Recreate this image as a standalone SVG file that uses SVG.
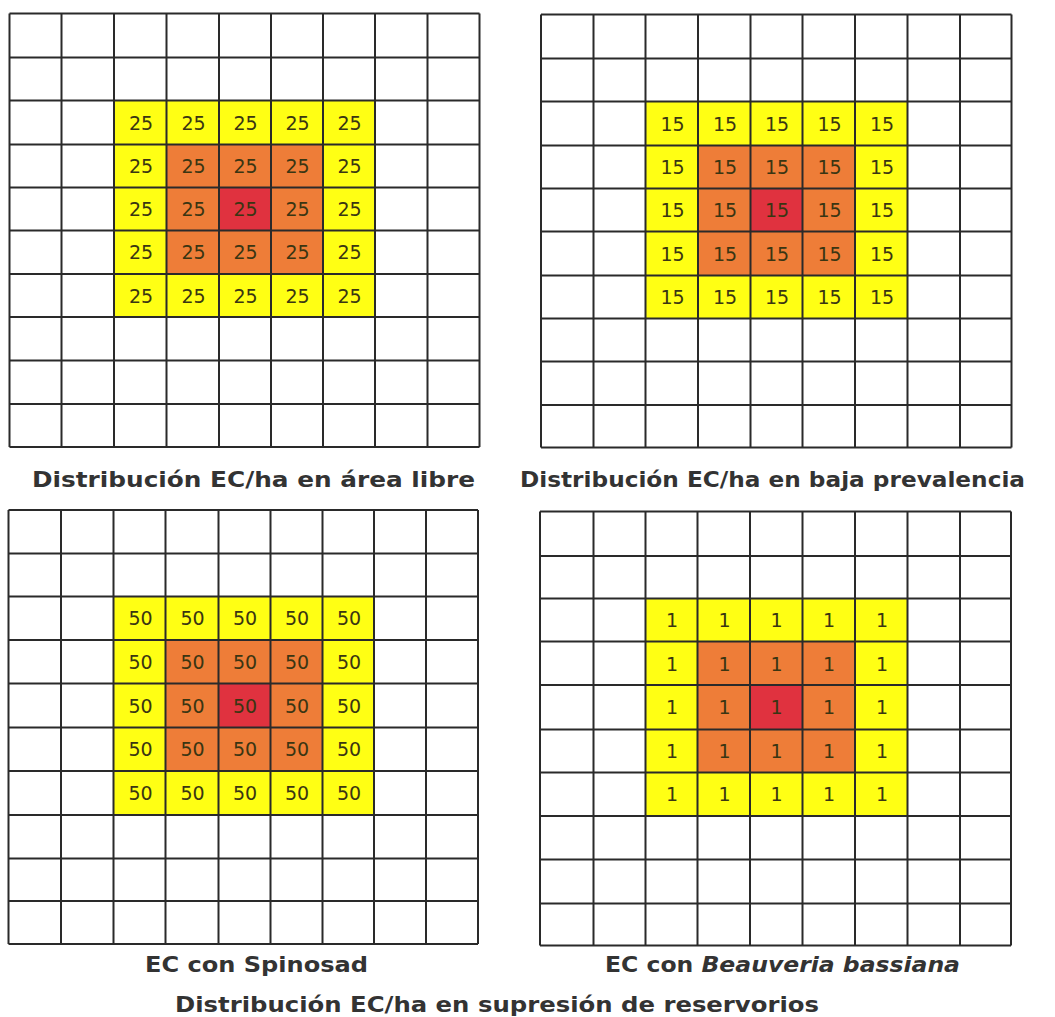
<svg xmlns="http://www.w3.org/2000/svg" width="1055" height="1017" viewBox="0 0 1055 1017">
<style>
.y{fill:#FFFF14}
.o{fill:#EE7D38}
.r{fill:#E0323F}
.g{fill:none;stroke:#2a2a2a;stroke-width:2}
.n{font-family:"DejaVu Sans",Verdana,sans-serif;font-size:19px;fill:#3a3512;text-anchor:middle}
.t{font-family:"DejaVu Sans",Verdana,sans-serif;font-weight:bold;font-size:22px;fill:#333;text-anchor:middle}
</style>
<rect width="1055" height="1017" fill="#fff"/>

<g id="grid-area-libre">
<rect class="y" x="114" y="100.5" width="261" height="216.5"/>
<rect class="o" x="166.5" y="144.5" width="156.5" height="129.5"/>
<rect class="r" x="219" y="187.5" width="52" height="43"/>
<path class="g" d="M9.5 13.5V447M61.5 13.5V447M114 13.5V447M166.5 13.5V447M219 13.5V447M271 13.5V447M323 13.5V447M375 13.5V447M427.5 13.5V447M479.5 13.5V447M9.5 13.5H479.5M9.5 57.5H479.5M9.5 100.5H479.5M9.5 144.5H479.5M9.5 187.5H479.5M9.5 230.5H479.5M9.5 274H479.5M9.5 317H479.5M9.5 360.5H479.5M9.5 404H479.5M9.5 447H479.5"/>
<g class="n">
<text x="141" y="129.5">25</text><text x="193.5" y="129.5">25</text><text x="245.5" y="129.5">25</text><text x="297.5" y="129.5">25</text><text x="349.5" y="129.5">25</text>
<text x="141" y="173">25</text><text x="193.5" y="173">25</text><text x="245.5" y="173">25</text><text x="297.5" y="173">25</text><text x="349.5" y="173">25</text>
<text x="141" y="216">25</text><text x="193.5" y="216">25</text><text x="245.5" y="216">25</text><text x="297.5" y="216">25</text><text x="349.5" y="216">25</text>
<text x="141" y="259">25</text><text x="193.5" y="259">25</text><text x="245.5" y="259">25</text><text x="297.5" y="259">25</text><text x="349.5" y="259">25</text>
<text x="141" y="302.5">25</text><text x="193.5" y="302.5">25</text><text x="245.5" y="302.5">25</text><text x="297.5" y="302.5">25</text><text x="349.5" y="302.5">25</text>
</g>
<text class="t" x="253.5" y="487" textLength="443" lengthAdjust="spacingAndGlyphs">Distribución EC/ha en área libre</text>
</g>

<g id="grid-baja-prevalencia">
<rect class="y" x="645.5" y="101.5" width="262" height="217"/>
<rect class="o" x="698" y="145.5" width="157" height="130"/>
<rect class="r" x="750.5" y="188.5" width="52" height="43"/>
<path class="g" d="M541 14.5V447.5M593.5 14.5V447.5M645.5 14.5V447.5M698 14.5V447.5M750.5 14.5V447.5M802.5 14.5V447.5M855 14.5V447.5M907.5 14.5V447.5M960 14.5V447.5M1011.5 14.5V447.5M541 14.5H1011.5M541 58.5H1011.5M541 101.5H1011.5M541 145.5H1011.5M541 188.5H1011.5M541 231.5H1011.5M541 275.5H1011.5M541 318.5H1011.5M541 361.5H1011.5M541 405H1011.5M541 447.5H1011.5"/>
<g class="n">
<text x="672.5" y="130.5">15</text><text x="725" y="130.5">15</text><text x="777" y="130.5">15</text><text x="829.5" y="130.5">15</text><text x="882" y="130.5">15</text>
<text x="672.5" y="174">15</text><text x="725" y="174">15</text><text x="777" y="174">15</text><text x="829.5" y="174">15</text><text x="882" y="174">15</text>
<text x="672.5" y="217">15</text><text x="725" y="217">15</text><text x="777" y="217">15</text><text x="829.5" y="217">15</text><text x="882" y="217">15</text>
<text x="672.5" y="260.5">15</text><text x="725" y="260.5">15</text><text x="777" y="260.5">15</text><text x="829.5" y="260.5">15</text><text x="882" y="260.5">15</text>
<text x="672.5" y="304">15</text><text x="725" y="304">15</text><text x="777" y="304">15</text><text x="829.5" y="304">15</text><text x="882" y="304">15</text>
</g>
<text class="t" x="772.5" y="487" textLength="505" lengthAdjust="spacingAndGlyphs">Distribución EC/ha en baja prevalencia</text>
</g>

<g id="grid-spinosad">
<rect class="y" x="113.5" y="596.5" width="260.5" height="218.5"/>
<rect class="o" x="165.5" y="640" width="157" height="131"/>
<rect class="r" x="218.5" y="683.5" width="52" height="44"/>
<path class="g" d="M8.5 510V944M61 510V944M113.5 510V944M165.5 510V944M218.5 510V944M270.5 510V944M322.5 510V944M374 510V944M426 510V944M478 510V944M8.5 510H478M8.5 553.5H478M8.5 596.5H478M8.5 640H478M8.5 683.5H478M8.5 727.5H478M8.5 771H478M8.5 815H478M8.5 858.5H478M8.5 901H478M8.5 944H478"/>
<g class="n">
<text x="140.5" y="625">50</text><text x="192.5" y="625">50</text><text x="245" y="625">50</text><text x="297" y="625">50</text><text x="349" y="625">50</text>
<text x="140.5" y="668.5">50</text><text x="192.5" y="668.5">50</text><text x="245" y="668.5">50</text><text x="297" y="668.5">50</text><text x="349" y="668.5">50</text>
<text x="140.5" y="712.5">50</text><text x="192.5" y="712.5">50</text><text x="245" y="712.5">50</text><text x="297" y="712.5">50</text><text x="349" y="712.5">50</text>
<text x="140.5" y="756">50</text><text x="192.5" y="756">50</text><text x="245" y="756">50</text><text x="297" y="756">50</text><text x="349" y="756">50</text>
<text x="140.5" y="800">50</text><text x="192.5" y="800">50</text><text x="245" y="800">50</text><text x="297" y="800">50</text><text x="349" y="800">50</text>
</g>
<text class="t" x="256.5" y="972" textLength="223" lengthAdjust="spacingAndGlyphs">EC con Spinosad</text>
</g>

<g id="grid-beauveria">
<rect class="y" x="645.5" y="598.5" width="262" height="217.5"/>
<rect class="o" x="697.5" y="641.5" width="157.5" height="131"/>
<rect class="r" x="750" y="685" width="52.5" height="44.5"/>
<path class="g" d="M540 511.5V945.5M593.5 511.5V945.5M645.5 511.5V945.5M697.5 511.5V945.5M750 511.5V945.5M802.5 511.5V945.5M855 511.5V945.5M907.5 511.5V945.5M960 511.5V945.5M1011 511.5V945.5M540 511.5H1011M540 556H1011M540 598.5H1011M540 641.5H1011M540 685H1011M540 729.5H1011M540 772.5H1011M540 816H1011M540 859.5H1011M540 903.5H1011M540 945.5H1011"/>
<g class="n">
<text x="672" y="627">1</text><text x="724.5" y="627">1</text><text x="776.5" y="627">1</text><text x="829" y="627">1</text><text x="882" y="627">1</text>
<text x="672" y="670.5">1</text><text x="724.5" y="670.5">1</text><text x="776.5" y="670.5">1</text><text x="829" y="670.5">1</text><text x="882" y="670.5">1</text>
<text x="672" y="714">1</text><text x="724.5" y="714">1</text><text x="776.5" y="714">1</text><text x="829" y="714">1</text><text x="882" y="714">1</text>
<text x="672" y="758">1</text><text x="724.5" y="758">1</text><text x="776.5" y="758">1</text><text x="829" y="758">1</text><text x="882" y="758">1</text>
<text x="672" y="801">1</text><text x="724.5" y="801">1</text><text x="776.5" y="801">1</text><text x="829" y="801">1</text><text x="882" y="801">1</text>
</g>
<text class="t" x="782.5" y="972" textLength="355" lengthAdjust="spacingAndGlyphs">EC con <tspan font-style="italic">Beauveria bassiana</tspan></text>
</g>

<text id="caption" class="t" x="497" y="1012" textLength="644" lengthAdjust="spacingAndGlyphs">Distribución EC/ha en supresión de reservorios</text>
</svg>
